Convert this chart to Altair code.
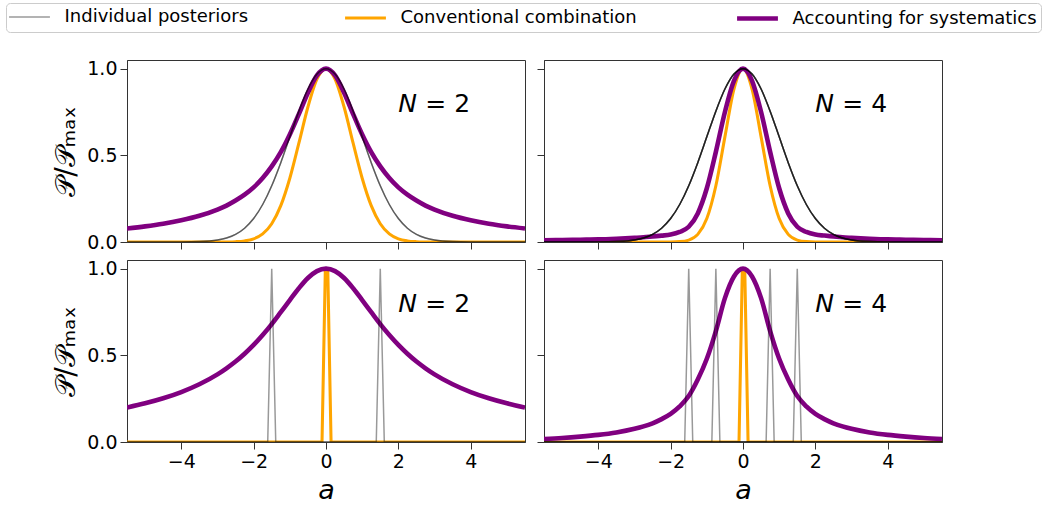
import altair as alt
import pandas as pd

# ---------------- data ----------------
A = [-5.5, -5.0, -4.5, -4.0, -3.5, -3.0, -2.75, -2.5, -2.25, -2.0, -1.75, -1.5, -1.25, -1.0,
     -0.75, -0.5, -0.25, 0.0, 0.25, 0.5, 0.75, 1.0, 1.25, 1.5, 1.75, 2.0, 2.25, 2.5, 2.75, 3.0,
     3.5, 4.0, 4.5, 5.0, 5.5]

# top row: individual posteriors all centred on 0
TOP_INDIV = [0, 0, 0, 0.0003, 0.0022, 0.0111, 0.0228, 0.0439, 0.0796, 0.1353, 0.2163, 0.3247,
             0.4578, 0.6065, 0.7548, 0.8825, 0.9692, 1.0, 0.9692, 0.8825, 0.7548, 0.6065, 0.4578,
             0.3247, 0.2163, 0.1353, 0.0796, 0.0439, 0.0228, 0.0111, 0.0022, 0.0003, 0, 0, 0]

TL_CONV = [0, 0, 0, 0, 0, 0.0001, 0.0005, 0.0019, 0.0063, 0.0183, 0.0468, 0.1054, 0.2096, 0.3679,
           0.5698, 0.7788, 0.9394, 1.0, 0.9394, 0.7788, 0.5698, 0.3679, 0.2096, 0.1054, 0.0468,
           0.0183, 0.0063, 0.0019, 0.0005, 0.0001, 0, 0, 0, 0, 0]
TL_SYS = [0.078, 0.090, 0.105, 0.125, 0.151, 0.187, 0.210, 0.239, 0.273, 0.315, 0.369, 0.436,
          0.518, 0.620, 0.738, 0.861, 0.961, 1.0, 0.961, 0.861, 0.738, 0.620, 0.518, 0.436, 0.369,
          0.315, 0.273, 0.239, 0.210, 0.187, 0.151, 0.125, 0.105, 0.090, 0.078]

TR_CONV = [0, 0, 0, 0, 0, 0, 0, 0, 0, 0.0003, 0.0022, 0.0111, 0.0439, 0.1353, 0.3247, 0.6065,
           0.8825, 1.0, 0.8825, 0.6065, 0.3247, 0.1353, 0.0439, 0.0111, 0.0022, 0.0003, 0, 0, 0,
           0, 0, 0, 0, 0, 0]
TR_SYS = [0.010, 0.011, 0.013, 0.015, 0.019, 0.024, 0.027, 0.032, 0.037, 0.043, 0.058, 0.088,
          0.165, 0.31, 0.52, 0.75, 0.93, 1.0, 0.93, 0.75, 0.52, 0.31, 0.165, 0.088, 0.058, 0.043,
          0.037, 0.032, 0.027, 0.024, 0.019, 0.015, 0.013, 0.011, 0.010]

BL_SYS = [0.199, 0.223, 0.252, 0.288, 0.333, 0.390, 0.425, 0.464, 0.509, 0.560, 0.617, 0.680,
          0.749, 0.819, 0.887, 0.946, 0.986, 1.0, 0.986, 0.946, 0.887, 0.819, 0.749, 0.680, 0.617,
          0.560, 0.509, 0.464, 0.425, 0.390, 0.333, 0.288, 0.252, 0.223, 0.199]
BR_SYS = [0.017, 0.023, 0.031, 0.041, 0.055, 0.076, 0.090, 0.108, 0.132, 0.162, 0.205, 0.265,
          0.360, 0.480, 0.640, 0.830, 0.955, 1.0, 0.955, 0.830, 0.640, 0.480, 0.360, 0.265, 0.205,
          0.162, 0.132, 0.108, 0.090, 0.076, 0.055, 0.041, 0.031, 0.023, 0.017]

# bottom row: narrow individual posteriors (spikes) and narrow conventional combination
BL_CENTRES = [-1.5, 1.5]
BR_CENTRES = [-1.5, -0.75, 0.75, 1.5]
SPIKE_A = [-5.5, -0.111, 0.0, 0.111, 5.5]      # offsets from centre (ends are the axis limits)
SPIKE_P = [0, 0, 1, 0, 0]
BOT_CONV_A = [-5.5, -0.11, -0.02, 0.05, 0.14, 5.5]
BOT_CONV_P = [0, 0, 0.98, 0.98, 0, 0]

SERIES = ["Individual posteriors", "Conventional combination", "Accounting for systematics"]
N_LABELS = {"TL": "2", "TR": "4", "BL": "2", "BR": "4"}

# ---------------- build long table ----------------
rows = []


def add(panel, series, cid, xs, ys):
    for x, y in zip(xs, ys):
        rows.append({"panel": panel, "series": series, "cid": cid, "a": x, "p": y})


for k in range(2):
    add("TL", SERIES[0], f"i{k}", A, TOP_INDIV)
for k in range(4):
    add("TR", SERIES[0], f"i{k}", A, TOP_INDIV)
add("TL", SERIES[1], "c", A, TL_CONV)
add("TL", SERIES[2], "s", A, TL_SYS)
add("TR", SERIES[1], "c", A, TR_CONV)
add("TR", SERIES[2], "s", A, TR_SYS)
add("BL", SERIES[2], "s", A, BL_SYS)
add("BR", SERIES[2], "s", A, BR_SYS)
for pid, centres in (("BL", BL_CENTRES), ("BR", BR_CENTRES)):
    for k, c in enumerate(centres):
        xs = [SPIKE_A[0]] + [c + d for d in SPIKE_A[1:-1]] + [SPIKE_A[-1]]
        add(pid, SERIES[0], f"i{k}", xs, SPIKE_P)
    add(pid, SERIES[1], "c", BOT_CONV_A, BOT_CONV_P)

df = pd.DataFrame(rows)
ann = pd.DataFrame([{"panel": p, "a": 2.0, "p": 0.75, "n": "N", "eq": "= " + v}
                    for p, v in N_LABELS.items()])

FONT = "DejaVu Sans"
legend = alt.Legend(
    title=None, orient="none", legendX=-121, legendY=-57, direction="horizontal",
    columns=3, columnPadding=90, gridAlign="none", symbolType="M-2.15,0H2.15", symbolSize=361,
    symbolOffset=8, labelFont=FONT, labelFontSize=18, labelColor="black", labelOffset=23,
    labelLimit=400, padding=3.5, strokeColor="#cccccc", fillColor="white", cornerRadius=4,
)
color = alt.Color("series:N",
                  scale=alt.Scale(domain=SERIES, range=["rgba(0,0,0,0.4)", "#FFA500", "#800080"]),
                  legend=legend)
width = alt.StrokeWidth("series:N", scale=alt.Scale(domain=SERIES, range=[1.5, 4.6, 5.0]),
                        legend=legend)


def panel(pid, xlab, ylab):
    xax = alt.Axis(values=[-4, -2, 0, 2, 4], format="d", labels=xlab, title="a" if xlab else None,
                   titleFontStyle="italic", titleFontSize=27, titleFontWeight="normal",
                   titlePadding=6, grid=False)
    yax = alt.Axis(values=[0, 0.5, 1.0], format=".1f", labels=ylab,
                   title="𝒫/𝒫ₘₐₓ" if ylab else None, titleFontSize=28, titleFontWeight="normal",
                   titlePadding=6, grid=False)
    x = alt.X("a:Q", scale=alt.Scale(domain=[-5.5, 5.5], nice=False, zero=False), axis=xax)
    y = alt.Y("p:Q", scale=alt.Scale(domain=[0, 1.05], nice=False, zero=False), axis=yax)
    base = alt.Chart(df).transform_filter(alt.datum.panel == pid)
    spiky = pid.startswith("B")
    layers = []
    for s in [SERIES[1], SERIES[2], SERIES[0]]:
        interp = "linear" if (spiky and s != SERIES[2]) else "monotone"
        layers.append(
            base.transform_filter(alt.datum.series == s)
            .mark_line(interpolate=interp, clip=True, strokeCap="butt")
            .encode(x=x, y=y, color=color, strokeWidth=width, detail="cid:N")
        )
    abase = alt.Chart(ann).transform_filter(alt.datum.panel == pid)
    layers.append(abase.mark_text(align="left", baseline="alphabetic", font=FONT, fontSize=25,
                                  fontStyle="italic", color="black")
                  .encode(x=x, y=y, text="n:N"))
    layers.append(abase.mark_text(align="left", baseline="alphabetic", font=FONT, fontSize=25,
                                  dx=27, color="black")
                  .encode(x=x, y=y, text="eq:N"))
    return alt.layer(*layers).properties(width=398, height=182)


chart = alt.concat(
    panel("TL", False, True), panel("TR", False, False),
    panel("BL", True, True), panel("BR", True, False),
    columns=2, spacing={"row": 18, "column": 19}, bounds="flush",
).resolve_scale(color="shared", strokeWidth="shared").properties(
    padding={"left": 5, "top": 2, "right": 0, "bottom": 0}
).configure(font=FONT).configure_view(stroke="#333333", strokeWidth=1).configure_axis(
    labelFont=FONT, labelFontSize=19, labelColor="black", titleFont=FONT, titleColor="black",
    domainColor="#333333", domainWidth=1, tickColor="#333333", tickWidth=1, tickSize=7,
    labelPadding=3,
)

chart.save("out.html", embed_options={"renderer": "svg", "actions": False})
